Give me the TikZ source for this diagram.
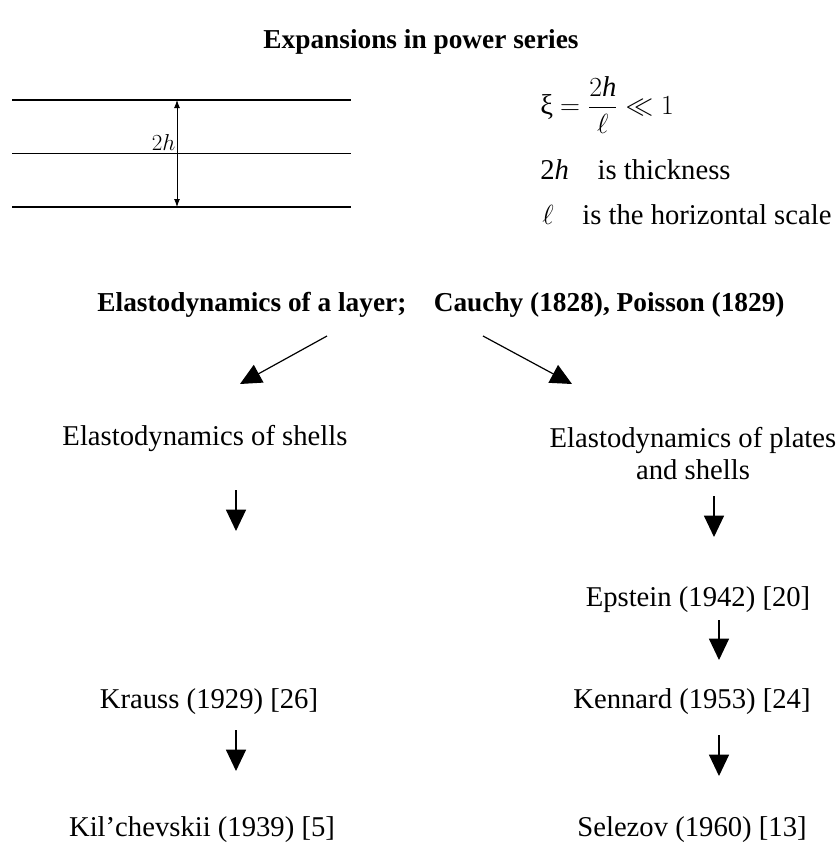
\documentclass[tikz,border=0pt]{standalone}
\usepackage{amsmath}
\usepackage{fontspec}
\setmainfont{Liberation Serif}
\usetikzlibrary{arrows.meta,positioning}
\tikzset{
    txt/.style={font=\fontsize{21.5}{24}\selectfont, inner sep=0pt, align=center},
    boldtxt/.style={font=\fontsize{20.5}{24}\selectfont\bfseries, inner sep=0pt},
    arr/.style={-{Triangle[width=15pt,length=16pt]}, line width=0.9pt},
}

\begin{document}
\begin{tikzpicture}[x=0.75pt,y=-0.75pt]
    \useasboundingbox (0,0) rectangle (839,865);

    % Title
    \node[boldtxt] (title) at (421,42) {Expansions in power series};

    % Layer
    \draw[line width=2.2pt] (12,100) -- (351,100);
    \draw[line width=0.5pt] (12,153) -- (351,153);
    \draw[line width=2.2pt] (12,207) -- (351,207);
    \coordinate (ltop) at (177,100);
    \coordinate (lbot) at (177,207);
    \draw[{Latex[length=6pt]}-{Latex[length=6pt]}, line width=0.7pt] (ltop) -- (lbot);
    \node[anchor=base east, inner sep=1pt, font=\fontsize{17}{20}\selectfont] (thick) at (177,150) {$2h$};

    % Notation
    \node[txt, anchor=west] (xi) at (540,105) {ξ $=\dfrac{2\textit{h}}{\ell}\ll 1$};
    \node[txt, anchor=west] (hdef) at (540,170) {2\textit{h}\quad is thickness};
    \node[txt, anchor=west] (ldef) at (542,215) {$\ell$\quad is the horizontal scale};

    % Tree
    \node[boldtxt] (layer) at (441,305) {Elastodynamics of a layer;\quad Cauchy (1828), Poisson (1829)};
    \node[txt] (shells) at (205,438) {Elastodynamics of shells};
    \node[txt] (plates) at (693,454) {Elastodynamics of plates\\and shells};
    \node[txt] (epstein) at (698,600) {Epstein (1942) [20]};
    \node[txt] (krauss) at (209,702) {Krauss (1929) [26]};
    \node[txt] (kennard) at (692,702) {Kennard (1953) [24]};
    \node[txt] (kil) at (202,830) {Kil’chevskii (1939) [5]};
    \node[txt] (selezov) at (692,830) {Selezov (1960) [13]};

    % Arrows
    \coordinate (a1) at (327,336);  \coordinate (b1) at (240,384);
    \coordinate (a2) at (483,336);  \coordinate (b2) at (572,384);
    \coordinate (a3) at (236,490);  \coordinate (b3) at (236,531);
    \coordinate (a4) at (714,496);  \coordinate (b4) at (714,537);
    \coordinate (a5) at (719,620);  \coordinate (b5) at (719,660);
    \coordinate (a6) at (236,730);  \coordinate (b6) at (236,771);
    \coordinate (a7) at (719,735);  \coordinate (b7) at (719,776);
    \foreach \s/\t in {a1/b1,a2/b2,a3/b3,a4/b4,a5/b5,a6/b6,a7/b7}
        \draw[arr] (\s) -- (\t);
\end{tikzpicture}
\end{document}
